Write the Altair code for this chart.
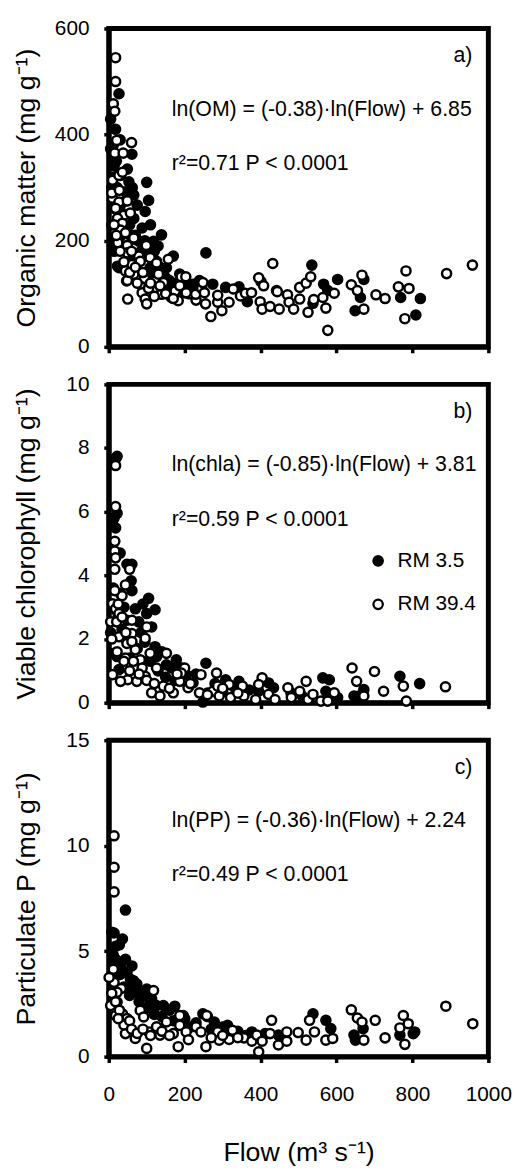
import altair as alt
import pandas as pd

FONT = "Liberation Sans"
SITES = ["RM 3.5", "RM 39.4"]
X_TICKS = [0, 200, 400, 600, 800, 1000]

# ---------------- Panel a: Organic matter (mg g-1) ----------------
om_flow_rm35 = [27, 18, 61, 100, 105, 96, 139, 170, 27, 10, 18, 49, 44, 75, 66, 118, 88, 126, 152, 187,
                200, 200, 5, 5, 14, 31, 53, 109, 144, 161, 222, 31, 14, 66, 79, 100, 14, 23, 8, 12,
                20, 35, 57, 40, 110, 130, 85, 60, 150, 175, 190, 210, 230,
                8, 15, 25, 33, 42, 55, 70, 90, 115, 135, 160, 180, 195, 215, 120, 95, 62, 45, 30, 22,
                256, 239, 274, 308, 343, 365, 401, 442, 535, 538, 566, 577, 603, 649, 663, 672, 769, 809, 821]
om_rm35 = [477, 410, 363, 310, 276, 255, 211, 171, 149, 199, 186, 335, 292, 267, 242, 199, 224, 161, 149, 137,
           112, 102, 429, 373, 341, 323, 311, 149, 124, 109, 118, 267, 261, 286, 199, 174, 180, 152, 300, 380,
           350, 230, 210, 190, 230, 190, 180, 170, 130, 115, 128, 100, 110,
           230, 320, 260, 210, 250, 230, 210, 170, 140, 150, 125, 120, 110, 115, 180, 200, 300, 275, 390, 300,
           177, 125, 118, 112, 113, 85, 123, 106, 154, 82, 118, 106, 127, 68, 93, 127, 93, 60, 91]
om_flow_rm394 = [18, 18, 12, 16, 21, 60, 16, 38, 10, 27, 36, 10, 27, 49, 18, 40, 23, 57, 36, 31,
                 64, 49, 79, 99, 83, 109, 126, 49, 61, 44, 66, 47, 83, 94, 88, 96, 100, 116, 131, 144,
                 139, 165, 157, 183, 191, 50, 49, 24, 66,
                 8, 14, 20, 30, 40, 55, 70, 75, 90, 105, 120, 150, 175, 215, 230, 28, 44, 60, 110, 135,
                 170, 187, 203, 204, 229, 245, 248, 252, 255, 269, 287, 287, 298, 317, 328, 347, 360, 376, 395, 399,
                 404, 408, 425, 432, 444, 449, 471, 475, 487, 503, 503, 520, 525, 532, 540, 564, 572, 577, 594, 639,
                 655, 667, 672, 704, 728, 763, 780, 783, 791, 890, 958]
om_rm394 = [545, 500, 458, 444, 389, 385, 365, 365, 314, 323, 329, 280, 273, 275, 261, 248, 242, 252, 233, 220,
            203, 191, 171, 191, 161, 168, 158, 177, 155, 143, 137, 124, 118, 129, 102, 90, 81, 106, 137, 121,
            99, 93, 165, 87, 132, 90, 125, 196, 205,
            290, 230, 210, 180, 160, 140, 150, 120, 140, 110, 95, 100, 105, 100, 88, 295, 215, 180, 120, 115,
            91, 115, 132, 102, 99, 110, 121, 102, 81, 57, 84, 97, 68, 84, 109, 96, 101, 102, 130, 85,
            71, 115, 76, 157, 104, 71, 98, 84, 71, 112, 90, 120, 65, 132, 89, 93, 73, 31, 101, 117,
            106, 135, 71, 98, 91, 113, 53, 143, 110, 138, 154]

# ---------------- Panel b: Viable chlorophyll (mg g-1) ----------------
chl_flow_rm35 = [22, 18, 22, 14, 18, 10, 48, 61, 59, 61, 31, 105, 122, 70, 100, 113, 79, 48, 10, 14,
                 22, 27, 122, 126, 152, 178, 165, 256, 204, 222, 248, 308, 343, 395, 421, 434, 564, 581, 572, 603,
                 646, 672, 767, 819, 659, 40, 85, 95, 140, 60, 35, 190, 230, 280, 330, 370, 480, 510, 20, 5,
                 12, 25, 45, 55, 75, 90, 110, 130, 150, 175, 210, 260, 300, 350, 30, 90]
chl_rm35 = [7.74, 7.66, 5.95, 5.80, 5.49, 5.69, 4.35, 4.35, 3.83, 3.52, 3.42, 3.28, 2.92, 2.95, 2.80, 2.38, 2.54, 2.59, 2.07, 1.55,
            1.45, 1.04, 1.76, 1.45, 1.19, 1.35, 1.09, 1.24, 0.88, 0.62, 0.02, 0.72, 0.67, 0.36, 0.62, 0.47, 0.78, 0.72, 0.36, 0.16,
            0.21, 0.41, 0.83, 0.60, 0.21, 3.0, 2.2, 1.9, 1.6, 1.9, 2.3, 1.1, 0.9, 0.6, 0.5, 0.4, 0.3, 0.2, 2.9, 2.2,
            3.6, 2.7, 2.0, 1.4, 1.7, 1.3, 1.3, 1.0, 0.8, 0.7, 0.5, 0.3, 0.35, 0.3, 4.7, 3.1]
chl_flow_rm394 = [18, 18, 16, 16, 16, 18, 55, 44, 35, 16, 10, 18, 27, 5, 21, 35, 61, 61, 100, 96,
                  27, 48, 70, 61, 44, 83, 109, 126, 88, 152, 50, 10, 31, 74, 96, 113, 135, 144, 170, 187,
                  200, 191, 209, 239, 243, 284, 274, 291, 287, 317, 321, 352, 356, 387, 404, 395, 421, 438, 472, 481,
                  503, 520, 525, 538, 559, 577, 594, 641, 653, 672, 700, 724, 776, 784, 887,
                  8, 22, 40, 55, 65, 80, 100, 120, 160, 180, 215, 260, 300, 340, 25, 45]
chl_rm394 = [7.45, 6.16, 5.07, 4.76, 4.19, 4.55, 4.19, 3.70, 3.36, 3.52, 3.11, 2.95, 2.80, 2.54, 2.54, 2.69, 2.17, 2.59, 2.38, 2.02,
             2.07, 1.86, 1.66, 1.92, 1.40, 1.35, 1.55, 1.09, 1.09, 1.55, 0.72, 0.88, 0.67, 0.67, 0.83, 0.31, 0.21, 0.52, 0.31, 0.67,
             1.09, 0.93, 0.47, 0.31, 0.88, 0.93, 0.36, 0.21, 0.52, 0.57, 0.16, 0.52, 0.21, 0.10, 0.78, 0.57, 0.26, 0.10, 0.47, 0.16,
             0.36, 0.67, 0.10, 0.26, 0.05, 0.05, 0.31, 1.09, 0.67, 0.21, 0.98, 0.36, 0.52, 0.05, 0.50,
             2.0, 1.6, 1.3, 1.0, 1.3, 0.9, 0.7, 0.6, 0.45, 0.9, 0.6, 0.25, 0.45, 0.3, 3.1, 2.2]

# ---------------- Panel c: Particulate P (mg g-1) ----------------
pp_flow_rm35 = [44, 14, 18, 36, 44, 61, 18, 31, 48, 74, 100, 92, 57, 70, 113, 144, 174, 126, 196, 248,
                278, 313, 377, 412, 447, 538, 572, 585, 650, 670, 767, 802, 806, 646,
                25, 50, 85, 110, 160, 200, 230, 260, 300, 340, 8, 20, 65,
                12, 30, 40, 55, 80, 100, 120, 140, 170, 190, 215, 270, 320, 360, 28]
pp_rm35 = [6.95, 5.86, 5.23, 5.58, 4.61, 4.30, 4.61, 4.22, 3.98, 3.44, 3.20, 2.89, 3.67, 3.05, 2.73, 2.42, 2.39, 2.42, 1.95, 2.03,
           1.64, 1.48, 1.17, 1.09, 1.02, 2.03, 1.72, 1.33, 0.78, 1.33, 1.02, 1.09, 1.17, 1.02,
           4.5, 3.3, 3.0, 2.6, 2.2, 1.8, 1.6, 1.9, 1.4, 1.2, 5.9, 4.0, 3.6,
           4.8, 3.9, 3.3, 2.9, 2.6, 2.3, 2.0, 1.9, 1.7, 1.5, 1.4, 1.3, 1.25, 1.0, 5.3]
pp_flow_rm394 = [14, 14, 14, 12, 14, 1, 5, 14, 33, 22, 18, 36, 22, 48, 44, 70, 83, 92, 100, 105,
                 118, 126, 135, 152, 170, 183, 187, 187, 204, 230, 243, 256, 258, 287, 291, 317, 326, 356, 377, 390,
                 395, 404, 425, 429, 447, 469, 469, 499, 520, 529, 542, 572, 590, 639, 655, 672, 667, 702, 728, 767,
                 776, 780, 789, 888, 959,
                 8, 18, 28, 40, 55, 60, 75, 90, 110, 140, 160, 210, 270, 300, 340, 25]
pp_rm394 = [10.47, 8.98, 7.81, 4.14, 3.52, 3.75, 2.42, 2.81, 3.23, 2.58, 1.95, 2.03, 3.05, 1.80, 1.09, 0.86, 2.19, 1.88, 0.39, 1.17,
            3.13, 1.41, 1.02, 1.64, 1.09, 0.47, 1.95, 1.48, 1.17, 1.41, 1.17, 0.47, 1.95, 1.17, 0.78, 0.81, 1.25, 0.89, 0.73, 1.02,
            0.23, 0.73, 1.09, 1.72, 0.55, 0.73, 1.17, 1.14, 0.78, 1.72, 1.17, 0.78, 0.86, 2.22, 1.83, 0.78, 1.64, 1.72, 0.89, 1.36,
            1.95, 0.58, 1.56, 2.39, 1.56,
            3.0, 2.6, 2.2, 1.5, 1.7, 1.3, 1.1, 1.3, 1.0, 1.2, 1.0, 0.8, 0.9, 1.0, 0.9, 1.8]

# ---------------- Annotation text ----------------
eq_texts = ["ln(OM) = (-0.38)·ln(Flow) + 6.85",
            "ln(chla) = (-0.85)·ln(Flow) + 3.81",
            "ln(PP) = (-0.36)·ln(Flow) + 2.24"]
r2_texts = ["r²=0.71 P < 0.0001", "r²=0.59 P < 0.0001", "r²=0.49 P < 0.0001"]
panel_labels = ["a)", "b)", "c)"]
y_titles = ["Organic matter (mg g⁻¹)", "Viable chlorophyll (mg g⁻¹)", "Particulate P (mg g⁻¹)"]
y_max = [600, 10, 15]
y_ticks = [[0, 200, 400, 600], [0, 2, 4, 6, 8, 10], [0, 5, 10, 15]]
x_title = "Flow (m³ s⁻¹)"

LINE_W = 5


def panel(i, f35, v35, f394, v394, height, bottom, legend):
    df = pd.DataFrame({
        "Flow": f35 + f394,
        "Value": v35 + v394,
        "Site": [SITES[0]] * len(f35) + [SITES[1]] * len(f394),
        "ord": [0] * len(f35) + [1] * len(f394),
    })
    ymax = y_max[i]
    xaxis = alt.Axis(values=X_TICKS, labels=bottom, format="d", labelFlush=False, labelOverlap=False,
                     labelPadding=21, tickSize=6, tickWidth=3.5, domainWidth=LINE_W, domainColor="black",
                     tickColor="black",
                     title=x_title if bottom else None,
                     titleBaseline="alphabetic", titleY=105)
    yaxis = alt.Axis(values=y_ticks[i], labelFlush=False, labelOverlap=False, labelPadding=15,
                     tickSize=5, tickWidth=3.5, domainWidth=LINE_W, domainColor="black", tickColor="black",
                     title=y_titles[i], titleX=-75, titleBaseline="alphabetic",
                     titleAngle=-90)
    xs = alt.Scale(domain=[0, 1000], nice=False)
    ys = alt.Scale(domain=[0, ymax], nice=False)
    if legend:
        leg = alt.Legend(orient="none", legendX=262, legendY=168, title=None,
                         labelFont=FONT, labelFontSize=21, labelColor="black",
                         symbolType="circle", symbolSize=90, symbolStrokeColor="black",
                         symbolStrokeWidth=2.3, symbolOpacity=1, rowPadding=22,
                         labelOffset=9, padding=0)
    else:
        leg = None
    pts = alt.Chart(df).mark_point(shape="circle", filled=True, size=85, stroke="black",
                                   strokeWidth=2.5, opacity=1).encode(
        x=alt.X("Flow:Q", scale=xs, axis=xaxis),
        y=alt.Y("Value:Q", scale=ys, axis=yaxis),
        fill=alt.Fill("Site:N", scale=alt.Scale(domain=SITES, range=["black", "white"]), legend=leg),
        order=alt.Order("ord:Q"),
    )
    ann = pd.DataFrame({
        "Flow": [166, 166, 958],
        "Value": [ymax * 0.745, ymax * 0.575, ymax * 0.913],
        "txt": [eq_texts[i], r2_texts[i], panel_labels[i]],
    })
    txt_left = alt.Chart(ann.iloc[:2]).mark_text(align="left", baseline="middle", font=FONT,
                                                fontSize=21.5, color="black").encode(
        x=alt.X("Flow:Q", scale=xs), y=alt.Y("Value:Q", scale=ys), text="txt:N")
    txt_right = alt.Chart(ann.iloc[2:]).mark_text(align="right", baseline="middle", font=FONT,
                                                 fontSize=21.5, color="black").encode(
        x=alt.X("Flow:Q", scale=xs), y=alt.Y("Value:Q", scale=ys), text="txt:N")
    return alt.layer(pts, txt_left, txt_right).properties(
        width=384, height=height,
        view=alt.ViewBackground(stroke="black", strokeWidth=LINE_W, fill="white"),
    )


pa = panel(0, om_flow_rm35, om_rm35, om_flow_rm394, om_rm394, 322, False, False)
pb = panel(1, chl_flow_rm35, chl_rm35, chl_flow_rm394, chl_rm394, 322, False, True)
pc = panel(2, pp_flow_rm35, pp_rm35, pp_flow_rm394, pp_rm394, 320, True, False)

chart = alt.vconcat(pa, pb, pc, spacing=38, bounds="flush").resolve_scale(
    x="independent", y="independent", fill="independent"
).properties(
    padding={"left": 10, "top": 8, "right": 5, "bottom": 5},
    background="white",
).configure_view(
    stroke="black", strokeWidth=LINE_W
).configure_axis(
    grid=False, domainColor="black", domainWidth=LINE_W, tickColor="black", tickWidth=3.5,
    labelFont=FONT, labelFontSize=21, labelColor="black",
    titleFont=FONT, titleFontSize=27, titleFontWeight="normal", titleColor="black",
)

chart.save("out.html", embed_options={"renderer": "svg", "actions": False})
